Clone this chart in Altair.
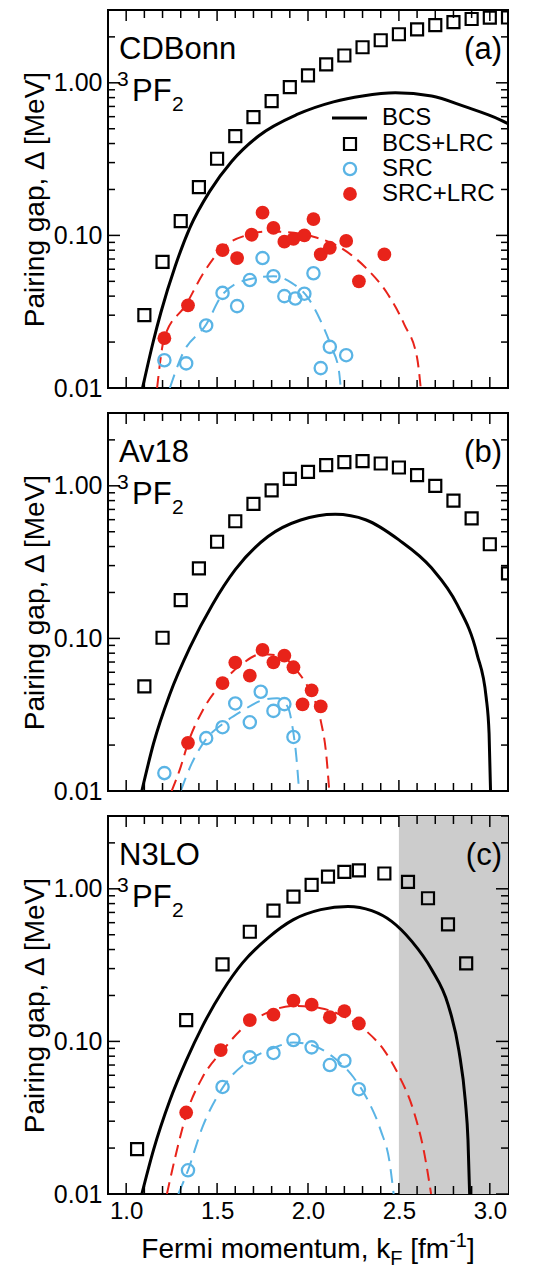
import altair as alt
import pandas as pd

FONT = "Liberation Sans"
W, H = 400, 378
X_DOMAIN = [0.9, 3.1]
Y_DOMAIN = [0.01, 3.0]
RED = "#E8231A"
BLUE = "#5AB4E5"
GREY = "#CCCCCC"

# ---------------- panel (a) CDBonn ----------------
a_bcs_k = [1.09, 1.15, 1.19, 1.27, 1.35, 1.46, 1.58, 1.73, 1.94, 2.14, 2.30, 2.48, 2.68, 2.86, 3.06, 3.10]
a_bcs_gap = [0.010, 0.0204, 0.031, 0.063, 0.112, 0.195, 0.305, 0.45, 0.62, 0.75, 0.82, 0.86, 0.82, 0.70, 0.57, 0.54]
a_lrc_k = [1.1, 1.2, 1.3, 1.4, 1.5, 1.6, 1.7, 1.8, 1.9, 2.0, 2.1, 2.2, 2.3, 2.4, 2.5, 2.6, 2.7, 2.8, 2.9, 3.0, 3.1]
a_lrc_gap = [0.030, 0.067, 0.124, 0.207, 0.318, 0.447, 0.596, 0.758, 0.937, 1.12, 1.32, 1.51, 1.71, 1.90, 2.08, 2.24, 2.39, 2.50, 2.62, 2.67, 2.68]
a_src_k = [1.21, 1.33, 1.44, 1.53, 1.61, 1.68, 1.75, 1.81, 1.87, 1.93, 1.98, 2.03, 2.07, 2.12, 2.21]
a_src_gap = [0.0152, 0.0145, 0.0257, 0.042, 0.0344, 0.051, 0.071, 0.054, 0.040, 0.0386, 0.0415, 0.0565, 0.0135, 0.0186, 0.0164]
a_srclrc_k = [1.21, 1.34, 1.53, 1.61, 1.69, 1.75, 1.81, 1.87, 1.92, 1.98, 2.03, 2.07, 2.12, 2.21, 2.28, 2.42]
a_srclrc_gap = [0.0212, 0.0348, 0.080, 0.071, 0.101, 0.141, 0.112, 0.091, 0.095, 0.100, 0.128, 0.075, 0.083, 0.092, 0.050, 0.075]
a_fit_srclrc_k = [1.17, 1.21, 1.33, 1.42, 1.52, 1.67, 1.78, 1.89, 2.03, 2.18, 2.32, 2.44, 2.53, 2.60, 2.62]
a_fit_srclrc_gap = [0.010, 0.0214, 0.0353, 0.0554, 0.0806, 0.101, 0.106, 0.105, 0.098, 0.083, 0.061, 0.041, 0.026, 0.0158, 0.010]
a_fit_src_k = [1.24, 1.31, 1.44, 1.53, 1.67, 1.81, 1.91, 2.00, 2.07, 2.13, 2.17, 2.18]
a_fit_src_gap = [0.010, 0.0167, 0.0261, 0.041, 0.0514, 0.054, 0.0489, 0.039, 0.0275, 0.0184, 0.013, 0.010]

# ---------------- panel (b) Av18 ----------------
b_bcs_k = [1.086, 1.15, 1.24, 1.35, 1.475, 1.60, 1.78, 1.96, 2.15, 2.32, 2.50, 2.68, 2.82, 2.93, 2.98, 2.996, 3.004]
b_bcs_gap = [0.010, 0.0204, 0.0431, 0.087, 0.167, 0.282, 0.465, 0.597, 0.65, 0.597, 0.442, 0.289, 0.167, 0.0787, 0.041, 0.0237, 0.010]
b_lrc_k = [1.1, 1.2, 1.3, 1.4, 1.5, 1.6, 1.7, 1.8, 1.9, 2.0, 2.1, 2.2, 2.3, 2.4, 2.5, 2.6, 2.7, 2.8, 2.9, 3.0, 3.1]
b_lrc_gap = [0.0485, 0.101, 0.178, 0.288, 0.43, 0.586, 0.762, 0.932, 1.11, 1.235, 1.365, 1.43, 1.45, 1.40, 1.318, 1.174, 1.0, 0.80, 0.612, 0.414, 0.267]
b_src_k = [1.21, 1.44, 1.53, 1.60, 1.68, 1.74, 1.81, 1.87, 1.92]
b_src_gap = [0.0131, 0.0222, 0.0262, 0.0375, 0.0282, 0.0447, 0.0335, 0.0371, 0.0226]
b_srclrc_k = [1.34, 1.53, 1.60, 1.68, 1.75, 1.81, 1.87, 1.92, 1.97, 2.02, 2.07]
b_srclrc_gap = [0.0207, 0.051, 0.0694, 0.057, 0.084, 0.0697, 0.077, 0.0647, 0.037, 0.0457, 0.0358]
b_fit_srclrc_k = [1.25, 1.30, 1.34, 1.42, 1.53, 1.64, 1.74, 1.85, 1.94, 2.01, 2.07, 2.10, 2.117]
b_fit_srclrc_gap = [0.010, 0.0144, 0.0206, 0.0336, 0.0514, 0.0684, 0.0787, 0.0767, 0.0612, 0.0454, 0.0289, 0.0175, 0.010]
b_fit_src_k = [1.30, 1.36, 1.44, 1.53, 1.64, 1.74, 1.83, 1.89, 1.915, 1.936, 1.951]
b_fit_src_gap = [0.010, 0.0151, 0.0219, 0.0275, 0.0336, 0.039, 0.0406, 0.0353, 0.0261, 0.0167, 0.010]

# ---------------- panel (c) N3LO ----------------
c_bcs_k = [1.086, 1.15, 1.24, 1.33, 1.42, 1.53, 1.64, 1.78, 1.92, 2.07, 2.22, 2.35, 2.46, 2.57, 2.68, 2.77, 2.83, 2.865, 2.88, 2.889]
c_bcs_gap = [0.010, 0.0194, 0.041, 0.0748, 0.126, 0.214, 0.327, 0.477, 0.628, 0.730, 0.767, 0.719, 0.612, 0.454, 0.296, 0.175, 0.087, 0.041, 0.0225, 0.010]
c_lrc_k = [1.06, 1.33, 1.53, 1.68, 1.81, 1.92, 2.02, 2.11, 2.20, 2.28, 2.42, 2.55, 2.66, 2.77, 2.87]
c_lrc_gap = [0.0197, 0.138, 0.32, 0.523, 0.72, 0.89, 1.06, 1.20, 1.29, 1.32, 1.26, 1.11, 0.867, 0.585, 0.325]
c_src_k = [1.34, 1.53, 1.68, 1.81, 1.92, 2.02, 2.12, 2.20, 2.28]
c_src_gap = [0.0143, 0.0503, 0.0786, 0.084, 0.102, 0.0914, 0.070, 0.0747, 0.0486]
c_srclrc_k = [1.33, 1.52, 1.68, 1.81, 1.92, 2.02, 2.12, 2.20, 2.28]
c_srclrc_gap = [0.0342, 0.0877, 0.138, 0.150, 0.185, 0.174, 0.144, 0.158, 0.131]
c_fit_srclrc_k = [1.224, 1.27, 1.335, 1.42, 1.53, 1.64, 1.78, 1.92, 2.07, 2.21, 2.32, 2.42, 2.50, 2.58, 2.64, 2.677]
c_fit_srclrc_gap = [0.010, 0.0175, 0.0344, 0.0582, 0.087, 0.122, 0.155, 0.171, 0.165, 0.143, 0.117, 0.087, 0.0597, 0.0353, 0.0184, 0.010]
c_fit_src_k = [1.287, 1.34, 1.42, 1.53, 1.68, 1.81, 1.92, 2.03, 2.14, 2.25, 2.33, 2.40, 2.45, 2.471]
c_fit_src_gap = [0.010, 0.0143, 0.0275, 0.0496, 0.0755, 0.0905, 0.0985, 0.0937, 0.0787, 0.0582, 0.041, 0.0261, 0.0158, 0.010]
c_band = [2.5, 3.1]

# ---------------- ticks / labels ----------------
x_label_values = [1.0, 1.5, 2.0, 2.5, 3.0]
x_major_ticks = [1.0, 1.5, 2.0, 2.5, 3.0]
x_minor_ticks = [1.1, 1.2, 1.3, 1.4, 1.6, 1.7, 1.8, 1.9, 2.1, 2.2, 2.3, 2.4, 2.6, 2.7, 2.8, 2.9]
y_label_values = [0.01, 0.1, 1.0]
y_major_ticks = [0.01, 0.1, 1.0]
y_minor_ticks = [0.02, 0.03, 0.04, 0.05, 0.06, 0.07, 0.08, 0.09,
                 0.2, 0.3, 0.4, 0.5, 0.6, 0.7, 0.8, 0.9, 2.0, 3.0]
legend_labels = ["BCS", "BCS+LRC", "SRC", "SRC+LRC"]
y_title = "Pairing gap, \u0394 [MeV]"


def xs():
    return alt.Scale(domain=X_DOMAIN, nice=False, zero=False)


def ys():
    return alt.Scale(type="log", domain=Y_DOMAIN, nice=False)


def make_axes(xlabels):
    if xlabels:
        xa = alt.Axis(values=x_label_values, format=".1f", labelFontSize=24, labelPadding=5,
                      title=None, ticks=False, domain=False, grid=False, labelFlush=False)
    else:
        xa = None
    ya = alt.Axis(values=y_label_values, format=".2f", title=y_title, titleFontSize=28,
                  titleFontWeight="normal", labelFontSize=25, labelPadding=6, titlePadding=4,
                  ticks=False, domain=False, grid=False, labelFlush=False)
    return xa, ya


def X(field, xa):
    return alt.X(field, scale=xs(), axis=xa)


def Y(field, ya):
    return alt.Y(field, scale=ys(), axis=ya)


def curve(k, g, color, width, xa, ya, dash=None):
    kw = dict(color=color, strokeWidth=width, clip=True, interpolate="monotone")
    if dash:
        kw["strokeDash"] = dash
    return alt.Chart(pd.DataFrame({"k": k, "g": g})).mark_line(**kw).encode(
        x=X("k:Q", xa), y=Y("g:Q", ya))


def points(k, g, kind, xa, ya):
    df = pd.DataFrame({"k": k, "g": g})
    if kind == "square":
        m = alt.Chart(df).mark_point(shape="square", size=144, filled=False, stroke="black",
                                     strokeWidth=2.2, opacity=1, clip=True)
    elif kind == "open":
        m = alt.Chart(df).mark_point(shape="circle", size=150, filled=False, stroke=BLUE,
                                     strokeWidth=2.3, opacity=1, clip=True)
    else:
        m = alt.Chart(df).mark_point(shape="circle", size=190, filled=True, fill=RED,
                                     strokeWidth=0, opacity=1, clip=True)
    return m.encode(x=X("k:Q", xa), y=Y("g:Q", ya))


def yticks(vals, length, ya):
    df = pd.DataFrame({"v": vals})
    base = alt.Chart(df).mark_rule(color="black", strokeWidth=1.5)
    left = base.encode(y=Y("v:Q", ya), x=alt.value(0), x2=alt.value(length))
    right = base.encode(y=Y("v:Q", ya), x=alt.value(W - length), x2=alt.value(W))
    return [left, right]


def xticks(vals, length, xa):
    df = pd.DataFrame({"v": vals})
    base = alt.Chart(df).mark_rule(color="black", strokeWidth=1.5)
    top = base.encode(x=X("v:Q", xa), y=alt.value(0), y2=alt.value(length))
    bottom = base.encode(x=X("v:Q", xa), y=alt.value(H - length), y2=alt.value(H))
    return [top, bottom]


def text(s, x, y, size, align="left", baseline="alphabetic", color="black"):
    return alt.Chart(pd.DataFrame({"t": [s]})).mark_text(
        align=align, baseline=baseline, fontSize=size, font=FONT, color=color
    ).encode(x=alt.value(x), y=alt.value(y), text="t:N")


def legend_layers():
    lx, tx = 242, 274
    rows = [108, 134, 159, 184]
    out = []
    out.append(alt.Chart(pd.DataFrame({"t": [legend_labels[0]]})).mark_rule(color="black", strokeWidth=3)
               .encode(x=alt.value(224), x2=alt.value(259), y=alt.value(rows[0])))
    out.append(alt.Chart(pd.DataFrame({"t": [legend_labels[1]]})).mark_point(
        shape="square", size=144, filled=False, stroke="black", strokeWidth=2.2, opacity=1)
        .encode(x=alt.value(lx), y=alt.value(rows[1])))
    out.append(alt.Chart(pd.DataFrame({"t": [legend_labels[2]]})).mark_point(
        shape="circle", size=150, filled=False, stroke=BLUE, strokeWidth=2.3, opacity=1)
        .encode(x=alt.value(lx), y=alt.value(rows[2])))
    out.append(alt.Chart(pd.DataFrame({"t": [legend_labels[3]]})).mark_point(
        shape="circle", size=190, filled=True, fill=RED, strokeWidth=0, opacity=1)
        .encode(x=alt.value(lx), y=alt.value(rows[3])))
    for lab, ry in zip(legend_labels, rows):
        out.append(text(lab, tx, ry, 24, baseline="middle"))
    return out


def x_title_layers():
    # "Fermi momentum, k_F [fm^-1]" built from pieces (Arial/Liberation metrics)
    big, small = 28, 20
    w_main = 8.89 * big
    w_sub = 0.611 * small
    w_space = 0.278 * big
    w_mid = 1.389 * big
    w_sup = 0.889 * small
    w_end = 0.278 * big
    total = w_main + w_sub + w_space + w_mid + w_sup + w_end
    x0 = W / 2 - total / 2
    yb = H + 64
    x1 = x0 + w_main
    x2 = x1 + w_sub + w_space
    x3 = x2 + w_mid
    x4 = x3 + w_sup
    return [
        text("Fermi momentum, k", x0, yb, big),
        text("F", x1, yb + 7, small),
        text("[fm", x2, yb, big),
        text("-1", x3, yb - 11, small),
        text("]", x4, yb, big),
    ]


def panel(d, name, tag, legend=False, band=None, xlabels=False):
    xa, ya = make_axes(xlabels)
    layers = []
    if band is not None:
        layers.append(
            alt.Chart(pd.DataFrame({"k0": [band[0]], "k1": [band[1]]})).mark_rect(color=GREY, clip=True)
            .encode(x=X("k0:Q", xa), x2="k1:Q", y=alt.value(0), y2=alt.value(H))
        )
    layers += [
        curve(d["bcs"][0], d["bcs"][1], "black", 3, xa, ya),
        curve(d["fit_srclrc"][0], d["fit_srclrc"][1], RED, 2, xa, ya, [12, 7]),
        curve(d["fit_src"][0], d["fit_src"][1], BLUE, 2, xa, ya, [14, 8]),
        points(d["lrc"][0], d["lrc"][1], "square", xa, ya),
        points(d["srclrc"][0], d["srclrc"][1], "filled", xa, ya),
        points(d["src"][0], d["src"][1], "open", xa, ya),
    ]
    layers += yticks(y_major_ticks, 12, ya) + yticks(y_minor_ticks, 7, ya)
    layers += xticks(x_major_ticks, 11, xa) + xticks(x_minor_ticks, 8, xa)
    layers += [
        text(name, 11, 49, 31),
        text("3", 9, 76, 21),
        text("PF", 24, 91, 31),
        text("2", 64, 101, 21),
        text(tag, 394, 49, 31, align="right"),
    ]
    if legend:
        layers += legend_layers()
    if xlabels:
        layers += x_title_layers()
    return alt.layer(*layers).properties(width=W, height=H)


da = {"bcs": (a_bcs_k, a_bcs_gap), "lrc": (a_lrc_k, a_lrc_gap), "src": (a_src_k, a_src_gap),
      "srclrc": (a_srclrc_k, a_srclrc_gap), "fit_srclrc": (a_fit_srclrc_k, a_fit_srclrc_gap),
      "fit_src": (a_fit_src_k, a_fit_src_gap)}
db = {"bcs": (b_bcs_k, b_bcs_gap), "lrc": (b_lrc_k, b_lrc_gap), "src": (b_src_k, b_src_gap),
      "srclrc": (b_srclrc_k, b_srclrc_gap), "fit_srclrc": (b_fit_srclrc_k, b_fit_srclrc_gap),
      "fit_src": (b_fit_src_k, b_fit_src_gap)}
dc = {"bcs": (c_bcs_k, c_bcs_gap), "lrc": (c_lrc_k, c_lrc_gap), "src": (c_src_k, c_src_gap),
      "srclrc": (c_srclrc_k, c_srclrc_gap), "fit_srclrc": (c_fit_srclrc_k, c_fit_srclrc_gap),
      "fit_src": (c_fit_src_k, c_fit_src_gap)}

pa = panel(da, "CDBonn", "(a)", legend=True)
pb = panel(db, "Av18", "(b)")
pc = panel(dc, "N3LO", "(c)", band=c_band, xlabels=True)

chart = alt.vconcat(pa, pb, pc, spacing=25, bounds="flush").properties(
    padding={"left": 12, "top": 0, "right": 4, "bottom": 4}
).configure(font=FONT).configure_view(stroke="black", strokeWidth=2).configure_axis(
    labelFont=FONT, titleFont=FONT, labelColor="black", titleColor="black"
)

chart.save("out.html", embed_options={"renderer": "svg", "actions": False})
